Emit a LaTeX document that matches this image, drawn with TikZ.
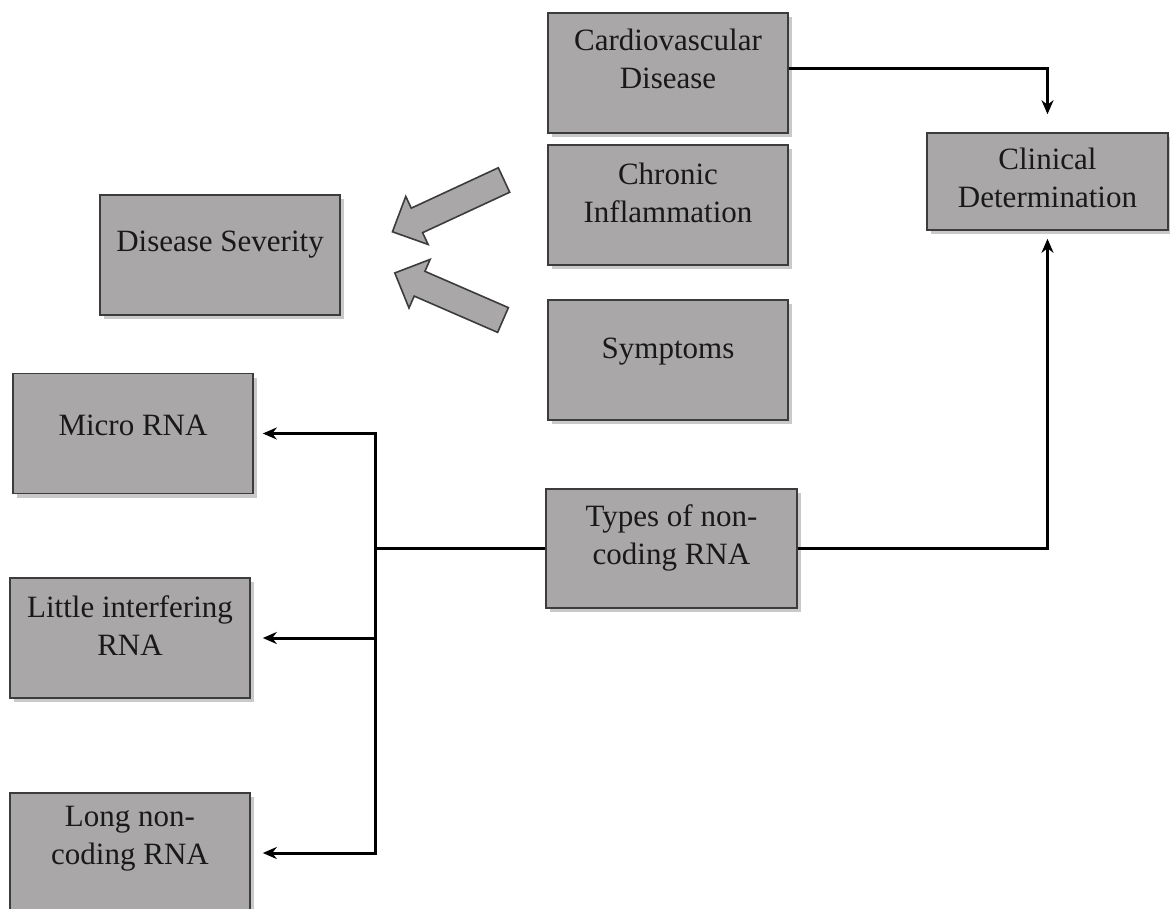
\documentclass[tikz,border=0pt]{standalone}
\usepackage{fontspec}
\setmainfont{Liberation Serif}
\usetikzlibrary{arrows.meta,shadows,calc}
\definecolor{boxfill}{RGB}{169,167,168}
\definecolor{boxedge}{RGB}{60,60,60}
\tikzset{
  box/.style={draw=boxedge, line width=1.6pt, fill=boxfill, minimum width=240pt, minimum height=120pt, inner sep=0pt,
    drop shadow={shadow xshift=4pt, shadow yshift=-4pt, opacity=0.35, fill=black!60}},
  lbl/.style={align=center, font=\fontsize{31}{38}\selectfont, inner sep=0pt, text=black!90},
  conn/.style={line width=3pt, draw=black, -{Stealth[length=14pt,width=12pt]}},
  plain/.style={line width=3pt, draw=black},
  blockarrow/.style={draw=boxedge, line width=1.6pt, fill=boxfill, line join=miter}
}
\begin{document}
\begin{tikzpicture}[x=1pt,y=-1pt]
\useasboundingbox (0,0) rectangle (1170,908);
\fill[white] (0,0) rectangle (1170,908);
% boxes
\node[box] (cvd) at (668,73) {};
\node[lbl] (cvdt) at ([yshift=14pt]cvd.center) {Cardiovascular\\Disease};
\node[box] (chr) at (668,205) {};
\node[lbl] (chrt) at ([yshift=12pt]chr.center) {Chronic\\Inflammation};
\node[box] (sym) at (668,360) {};
\node[lbl] (symt) at ([yshift=8pt]sym.center) {Symptoms};
\node[box, minimum width=241pt, minimum height=97pt] (clin) at (1047.5,181.5) {};
\node[lbl] (clint) at ([yshift=3.5pt]clin.center) {Clinical\\Determination};
\node[box] (sev) at (220,255) {};
\node[lbl] (sevt) at ([yshift=10pt]sev.center) {Disease Severity};
\node[box] (micro) at (133,433.5) {};
\node[lbl] (microt) at ([yshift=8pt]micro.center) {Micro RNA};
\node[box] (little) at (130,638) {};
\node[lbl] (littlet) at ([yshift=12pt]little.center) {Little interfering\\RNA};
\node[box] (long) at (130,853) {};
\node[lbl] (longt) at ([yshift=14pt]long.center) {Long non-\\coding RNA};
\node[box, minimum width=251pt, minimum height=119pt] (types) at (671.5,548.5) {};
\node[lbl] (typest) at ([yshift=11pt]types.center) {Types of non-\\coding RNA};
% connectors
\draw[conn] ([yshift=5pt]cvd.east) -| ([yshift=18pt]clin.north);
\draw[conn] (types.east) -| ([yshift=-8pt]clin.south);
\coordinate (br) at (375,548.5);
\draw[plain] (types.west) -- (br);
\draw[conn] (br) |- ([xshift=9pt]micro.east);
\draw[conn] (br) |- ([xshift=12pt]little.east);
\draw[conn] (br) |- ([xshift=12pt]long.east);
% block arrows
\begin{scope}[shift={(504,180)}, rotate=204.9]
\draw[blockarrow] (0,-13.5) -- (96,-13.5) -- (96,-26.5) -- (123,0) -- (96,26.5) -- (96,13.5) -- (0,13.5) -- cycle;
\end{scope}
\begin{scope}[shift={(503,320)}, rotate=156.5]
\draw[blockarrow] (0,-13.5) -- (91,-13.5) -- (91,-26.5) -- (118,0) -- (91,26.5) -- (91,13.5) -- (0,13.5) -- cycle;
\end{scope}
\end{tikzpicture}
\end{document}
